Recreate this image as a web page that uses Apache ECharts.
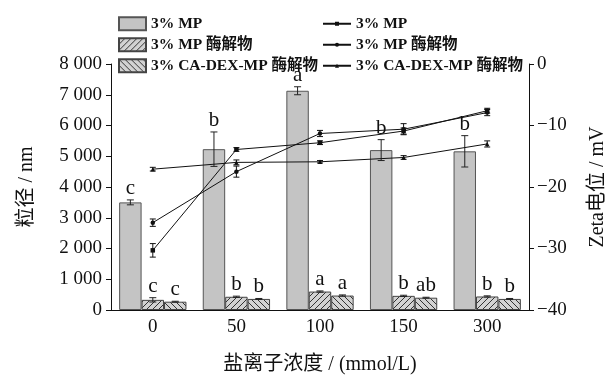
<!DOCTYPE html>
<html>
<head>
<meta charset="utf-8">
<script src="https://cdn.jsdelivr.net/npm/echarts@6/dist/echarts.min.js"></script>
<style>
  html, body { margin: 0; padding: 0; background: #fff; }
  #chart { width: 605px; height: 375px; }
</style>
</head>
<body>
<div id="chart"></div>
<script>
// Salt concentration groups (mmol/L)
const categories = ['0', '50', '100', '150', '300'];

// Particle size (nm) with standard deviations and significance letters
const sizeMP = [3500, 5230, 7130, 5200, 5160];
const sizeMPErr = [80, 560, 130, 340, 510];
const sizeMPLetters = ['c', 'b', 'a', 'b', 'b'];

const sizeHyd = [330, 430, 600, 460, 440];
const sizeHydErr = [70, 20, 20, 20, 20];
const sizeHydLetters = ['c', 'b', 'a', 'b', 'b'];

const sizeCaDex = [270, 360, 470, 400, 360];
const sizeCaDexErr = [15, 15, 20, 15, 15];
const sizeCaDexLetters = ['c', 'b', 'a', 'ab', 'b'];

// Zeta potential (mV) with standard deviations
const zetaMP = [-30.3, -13.9, -12.8, -10.9, -7.6];
const zetaMPErr = [1.1, 0.3, 0.3, 0.5, 0.4];
const zetaHyd = [-25.8, -17.5, -11.3, -10.6, -7.9];
const zetaHydErr = [0.6, 0.9, 0.5, 0.9, 0.5];
const zetaCaDex = [-17.1, -16.0, -15.9, -15.2, -13.0];
const zetaCaDexErr = [0.3, 0.4, 0.2, 0.3, 0.5];

const leftTicks = [0, 1000, 2000, 3000, 4000, 5000, 6000, 7000, 8000];
const rightTicks = [-40, -30, -20, -10, 0];

const FONT = '"Liberation Serif", "Times New Roman", "Noto Sans CJK SC", serif';
const GAP = 0.195;      // bar category gap fraction
const LINE_PREFIX = 'Zeta·';

function hatch(dir) {
  const s = 6;
  const c = document.createElement('canvas');
  c.width = s; c.height = s;
  const g = c.getContext('2d');
  g.fillStyle = '#d2d2d2';
  g.fillRect(0, 0, s, s);
  g.strokeStyle = '#333';
  g.lineWidth = 1;
  g.beginPath();
  for (let k = -1; k <= 1; k++) {
    if (dir > 0) { g.moveTo(k * s, s); g.lineTo(k * s + s, 0); }
    else { g.moveTo(k * s, 0); g.lineTo(k * s + s, s); }
  }
  g.stroke();
  return c;
}

function thousands(v) {
  return String(v).replace(/\B(?=(\d{3})+(?!\d))/g, ' ');
}

// Error bars and letters over the grouped bars
function barDecor(slot, errs, letters) {
  return function (params, api) {
    const cat = api.value(0), v = api.value(1), e = errs[params.dataIndex];
    const band = api.size([1, 0])[0];
    const bw = band * (1 - GAP) / 3;
    const x = api.coord([cat, 0])[0] + (slot - 1) * bw;
    const yt = api.coord([cat, v + e])[1];
    const yb = api.coord([cat, v - e])[1];
    const cap = 3.5;
    const st = { stroke: '#222', lineWidth: 1 };
    return {
      type: 'group',
      children: [
        { type: 'line', shape: { x1: x, y1: yt, x2: x, y2: yb }, style: st },
        { type: 'line', shape: { x1: x - cap, y1: yt, x2: x + cap, y2: yt }, style: st },
        { type: 'line', shape: { x1: x - cap, y1: yb, x2: x + cap, y2: yb }, style: st },
        { type: 'text', x: x, y: yt - 1, style: {
            text: letters[params.dataIndex], fill: '#111', font: '21px ' + FONT,
            textAlign: 'center', textVerticalAlign: 'bottom' } }
      ]
    };
  };
}

function lineErr(errs) {
  return function (params, api) {
    const cat = api.value(0), v = api.value(1), e = errs[params.dataIndex];
    const x = api.coord([cat, v])[0];
    const yt = api.coord([cat, v + e])[1];
    const yb = api.coord([cat, v - e])[1];
    const cap = 3;
    const st = { stroke: '#111', lineWidth: 1 };
    return {
      type: 'group',
      children: [
        { type: 'line', shape: { x1: x, y1: yt, x2: x, y2: yb }, style: st },
        { type: 'line', shape: { x1: x - cap, y1: yt, x2: x + cap, y2: yt }, style: st },
        { type: 'line', shape: { x1: x - cap, y1: yb, x2: x + cap, y2: yb }, style: st }
      ]
    };
  };
}

const pairs = arr => arr.map((v, i) => [i, v]);

const barNames = ['3% MP', '3% MP 酶解物', '3% CA-DEX-MP 酶解物'];
const lineNames = barNames.map(n => LINE_PREFIX + n);

const barBase = {
  type: 'bar', barGap: '0%', barCategoryGap: (GAP * 100) + '%',
  yAxisIndex: 0, z: 2
};
const lineBase = {
  type: 'line', yAxisIndex: 1, z: 4, symbolSize: 4.5,
  lineStyle: { color: '#111', width: 1 },
  itemStyle: { color: '#111' }
};

const legendText = { fontSize: 15.5, fontWeight: 'bold', fontFamily: FONT, color: '#111' };

const chart = echarts.init(document.getElementById('chart'), null, { renderer: 'canvas' });
chart.setOption({
  animation: false,
  textStyle: { fontFamily: FONT, color: '#111' },
  grid: { left: 111, right: 76, top: 64, bottom: 65, containLabel: false, outerBoundsMode: 'none' },
  legend: [
    {
      data: barNames.map(n => ({ name: n, icon: 'rect' })),
      orient: 'vertical', left: 113, top: 11,
      itemWidth: 27, itemHeight: 13, itemGap: 5.5,
      textStyle: legendText
    },
    {
      data: lineNames, orient: 'vertical', left: 317, top: 11,
      itemWidth: 28, itemHeight: 5, itemGap: 5.5,
      formatter: n => n.replace(LINE_PREFIX, ''),
      textStyle: legendText
    }
  ],
  xAxis: {
    type: 'category', data: categories,
    name: '盐离子浓度 / (mmol/L)', nameLocation: 'middle', nameGap: 45,
    nameTextStyle: { fontSize: 20, fontFamily: FONT, color: '#111' },
    axisLine: { lineStyle: { color: '#111', width: 1 } },
    axisTick: { show: false },
    axisLabel: { fontSize: 19, fontFamily: FONT, color: '#111', margin: 8 }
  },
  yAxis: [
    {
      type: 'value', min: leftTicks[0], max: leftTicks[leftTicks.length - 1], interval: 1000,
      name: '粒径 / nm', nameLocation: 'middle', nameGap: 74, nameRotate: 90,
      nameTextStyle: { fontSize: 20, fontFamily: FONT, color: '#111' },
      axisLine: { show: true, lineStyle: { color: '#111', width: 1 } },
      axisTick: { show: true, length: 5, lineStyle: { color: '#111' } },
      splitLine: { show: false },
      axisLabel: { fontSize: 19, fontFamily: FONT, color: '#111', margin: 9, formatter: thousands }
    },
    {
      type: 'value', position: 'right', min: rightTicks[0], max: rightTicks[rightTicks.length - 1], interval: 10,
      name: 'Zeta电位 / mV', nameLocation: 'middle', nameGap: 59, nameRotate: 90,
      nameTextStyle: { fontSize: 20, fontFamily: FONT, color: '#111' },
      axisLine: { show: true, lineStyle: { color: '#111', width: 1 } },
      axisTick: { show: true, length: 5, lineStyle: { color: '#111' } },
      splitLine: { show: false },
      axisLabel: { fontSize: 19, fontFamily: FONT, color: '#111', margin: 8,
        formatter: v => (v < 0 ? '\u2212' + Math.abs(v) : String(v)) }
    }
  ],
  series: [
    Object.assign({}, barBase, {
      name: barNames[0], data: sizeMP,
      itemStyle: { color: '#c4c4c4', borderColor: '#555', borderWidth: 1 }
    }),
    Object.assign({}, barBase, {
      name: barNames[1], data: sizeHyd,
      itemStyle: { color: { image: hatch(1), repeat: 'repeat' }, borderColor: '#444', borderWidth: 1 }
    }),
    Object.assign({}, barBase, {
      name: barNames[2], data: sizeCaDex,
      itemStyle: { color: { image: hatch(-1), repeat: 'repeat' }, borderColor: '#444', borderWidth: 1 }
    }),
    { type: 'custom', yAxisIndex: 0, z: 3, data: pairs(sizeMP), renderItem: barDecor(0, sizeMPErr, sizeMPLetters) },
    { type: 'custom', yAxisIndex: 0, z: 3, data: pairs(sizeHyd), renderItem: barDecor(1, sizeHydErr, sizeHydLetters) },
    { type: 'custom', yAxisIndex: 0, z: 3, data: pairs(sizeCaDex), renderItem: barDecor(2, sizeCaDexErr, sizeCaDexLetters) },
    Object.assign({}, lineBase, { name: lineNames[0], data: zetaMP, symbol: 'rect' }),
    Object.assign({}, lineBase, { name: lineNames[1], data: zetaHyd, symbol: 'circle' }),
    Object.assign({}, lineBase, { name: lineNames[2], data: zetaCaDex, symbol: 'triangle' }),
    { type: 'custom', yAxisIndex: 1, z: 5, data: pairs(zetaMP), renderItem: lineErr(zetaMPErr) },
    { type: 'custom', yAxisIndex: 1, z: 5, data: pairs(zetaHyd), renderItem: lineErr(zetaHydErr) },
    { type: 'custom', yAxisIndex: 1, z: 5, data: pairs(zetaCaDex), renderItem: lineErr(zetaCaDexErr) }
  ]
});
</script>
</body>
</html>
